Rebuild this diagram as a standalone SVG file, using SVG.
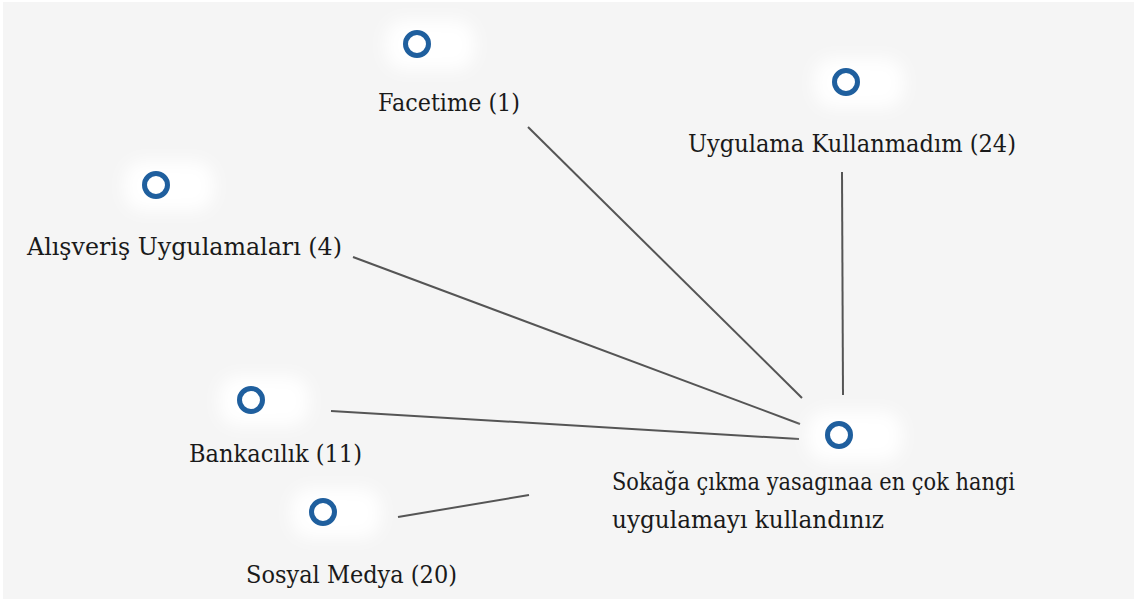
<svg xmlns="http://www.w3.org/2000/svg" width="1134" height="599" viewBox="0 0 1134 599">
  <style>
    .label { font-family: 'DejaVu Serif', serif; font-size: 25px; fill: #1a1a1a; }
    .ring { fill: none; stroke: #1f5f9e; stroke-width: 5; }
    .halo { fill: #ffffff; filter: url(#soft); }
    .edge { stroke: #555555; stroke-width: 2; fill: none; }
  </style>
  <defs>
    <filter id="soft" x="-50%" y="-50%" width="200%" height="200%">
      <feGaussianBlur stdDeviation="8"/>
    </filter>
  </defs>

  <!-- canvas -->
  <rect x="0" y="0" width="1134" height="599" fill="#ffffff"/>
  <rect x="3" y="2" width="1131" height="597" fill="#f5f5f5"/>

  <!-- connectors -->
  <g id="connectors">
    <line class="edge" x1="528" y1="127" x2="802" y2="398"/>
    <line class="edge" x1="842" y1="172" x2="843" y2="395"/>
    <line class="edge" x1="353" y1="257" x2="800" y2="424"/>
    <line class="edge" x1="331" y1="411" x2="799" y2="439"/>
    <line class="edge" x1="398" y1="517" x2="529" y2="495"/>
  </g>

  <g id="node-facetime">
    <rect class="halo" x="385" y="20" width="90" height="50" rx="20"/>
    <circle class="ring" cx="417" cy="44" r="11.5"/>
    <text class="label" x="378" y="111" textLength="142" lengthAdjust="spacingAndGlyphs">Facetime (1)</text>
  </g>

  <g id="node-uygulama-kullanmadim">
    <rect class="halo" x="814" y="58" width="90" height="50" rx="20"/>
    <circle class="ring" cx="846" cy="82" r="11.5"/>
    <text class="label" x="688" y="152" textLength="328" lengthAdjust="spacingAndGlyphs">Uygulama Kullanmadım (24)</text>
  </g>

  <g id="node-alisveris">
    <rect class="halo" x="124" y="161" width="90" height="50" rx="20"/>
    <circle class="ring" cx="156" cy="185" r="11.5"/>
    <text class="label" x="27" y="255" textLength="315" lengthAdjust="spacingAndGlyphs">Alışveriş Uygulamaları (4)</text>
  </g>

  <g id="node-bankacilik">
    <rect class="halo" x="219" y="376" width="90" height="50" rx="20"/>
    <circle class="ring" cx="251" cy="400" r="11.5"/>
    <text class="label" x="189" y="462" textLength="173" lengthAdjust="spacingAndGlyphs">Bankacılık (11)</text>
  </g>

  <g id="node-sosyal-medya">
    <rect class="halo" x="291" y="488" width="90" height="50" rx="20"/>
    <circle class="ring" cx="323" cy="512" r="11.5"/>
    <text class="label" x="246" y="583" textLength="211" lengthAdjust="spacingAndGlyphs">Sosyal Medya (20)</text>
  </g>

  <g id="node-center">
    <rect class="halo" x="807" y="411" width="95" height="50" rx="20"/>
    <circle class="ring" cx="839" cy="435" r="11.5"/>
    <text class="label" x="612" y="490" textLength="403" lengthAdjust="spacingAndGlyphs">Sokağa çıkma yasagınaa en çok hangi</text>
    <text class="label" x="612" y="528" textLength="272" lengthAdjust="spacingAndGlyphs">uygulamayı kullandınız</text>
  </g>
</svg>
